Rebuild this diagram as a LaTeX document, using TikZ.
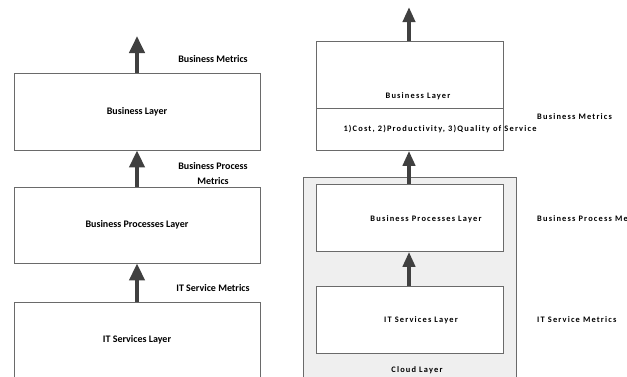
\documentclass[tikz,border=0pt]{standalone}
\usepackage{fontspec}
\setmainfont{Carlito}
\newfontfamily\spaced[LetterSpace=14,Ligatures=NoCommon]{Carlito}
\usetikzlibrary{arrows.meta}
\definecolor{arr}{HTML}{404040}
\definecolor{edge}{HTML}{6A6A6A}
\definecolor{cloud}{HTML}{EFEFEF}
\tikzset{
  x=1pt, y=-1pt,
  layerbox/.style={draw=edge, line width=0.8pt, fill=white, minimum width=246pt, inner sep=0pt, font=\bfseries\fontsize{10}{11}\selectfont},
  rbox/.style={draw=edge, line width=0.8pt, fill=white, minimum width=187pt, inner sep=0pt},
  ltext/.style={font=\bfseries\fontsize{10}{15}\selectfont, align=center, inner sep=0pt},
  rtext/.style={font=\spaced\bfseries\fontsize{8.4}{9}\selectfont, inner sep=0pt},
  bigarrow/.style={draw=arr, line width=4pt, -{Triangle[length=17pt,width=15pt]}},
  smallarrow/.style={draw=arr, line width=4pt, -{Triangle[length=15pt,width=12pt]}}
}
\begin{document}
\begin{tikzpicture}
\useasboundingbox (0,0) rectangle (627,376);
\clip (0,0) rectangle (627,376);
% ---------- left column ----------
\node[layerbox, minimum height=77pt] (lbl) at (137,111.5) {Business Layer};
\node[layerbox, minimum height=76pt] (lbpl) at (137,225) {Business Processes Layer};
\node[layerbox, minimum height=76pt] (lit) at (137,340) {IT Services Layer};
\coordinate (ltop) at (137,36);
\draw[bigarrow] (lbl.north) -- (ltop);
\draw[bigarrow] (lbpl.north) -- (lbl.south);
\draw[bigarrow] (lit.north) -- (lbpl.south);
\node[ltext] (lm1) at (213,59) {Business Metrics};
\node[ltext] (lm2) at (213,173.5) {Business Process\\Metrics};
\node[ltext] (lm3) at (213,288) {IT Service Metrics};
% ---------- right column ----------
\node[draw=edge, line width=0.8pt, fill=cloud, minimum width=213pt, minimum height=210pt, inner sep=0pt, anchor=north west] (cloudbox) at (303,177) {};
\node[rbox, minimum height=67pt, anchor=north west] (rbu) at (316,41) {};
\node[rbox, minimum height=42pt, anchor=north west] (rbd) at (316,108) {};
\node[rbox, minimum height=67pt, anchor=north west] (rbpl) at (316,184) {};
\node[rbox, minimum height=67pt, anchor=north west] (rit) at (316,286) {};
\node[rtext] (tbl) at (418,96) {Business Layer};
\node[rtext] (tcost) at (440,129) {1)Cost, 2)Productivity, 3)Quality of Service};
\node[rtext] (tbpl) at (426,219) {Business Processes Layer};
\node[rtext] (tit) at (421,320) {IT Services Layer};
\node[rtext] (tcl) at (417,370) {Cloud Layer};
\node[rtext, anchor=west] (rm1) at (537,117) {Business Metrics};
\node[rtext, anchor=west] (rm2) at (537,219) {Business Process Metrics};
\node[rtext, anchor=west] (rm3) at (537,320) {IT Service Metrics};
\coordinate (rtop) at (409,7);
\draw[smallarrow] (rbu.north -| rtop) -- (rtop);
\draw[smallarrow] (rbpl.north -| rtop) -- (rbd.south -| rtop);
\draw[smallarrow] (rit.north -| rtop) -- (rbpl.south -| rtop);
\end{tikzpicture}
\end{document}
